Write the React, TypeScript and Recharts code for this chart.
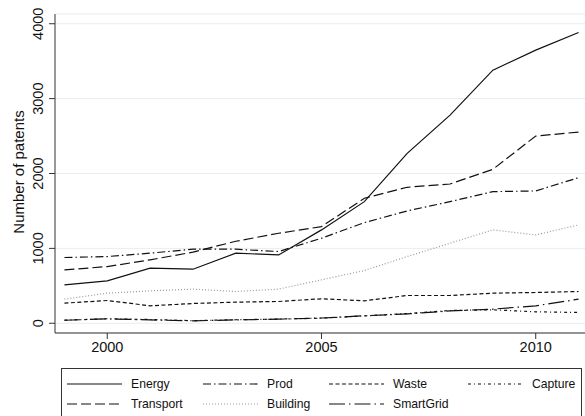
import React from 'react';
import { LineChart, Line, XAxis, YAxis, CartesianGrid } from 'recharts';

// Patentes por año y tecnología
const years = [1999, 2000, 2001, 2002, 2003, 2004, 2005, 2006, 2007, 2008, 2009, 2010, 2011];
const energy = [513, 567, 736, 722, 936, 913, 1247, 1624, 2269, 2780, 3380, 3647, 3883];
const transport = [713, 757, 847, 950, 1095, 1202, 1291, 1669, 1816, 1860, 2056, 2500, 2553];
const prod = [878, 891, 936, 989, 989, 958, 1136, 1344, 1500, 1624, 1758, 1767, 1944];
const building = [322, 402, 433, 456, 424, 456, 580, 704, 891, 1069, 1247, 1180, 1313];
const waste = [269, 304, 233, 264, 282, 291, 327, 300, 371, 371, 402, 411, 424];
const smartGrid = [40, 58, 45, 33, 45, 55, 70, 100, 125, 165, 189, 233, 322];
const capture = [42, 60, 50, 35, 47, 56, 68, 98, 130, 170, 180, 153, 144];

const xTicks = [2000, 2005, 2010];
const yTicks = [0, 1000, 2000, 3000, 4000];

const data = years.map((year, i) => ({
  year,
  energy: energy[i],
  transport: transport[i],
  prod: prod[i],
  building: building[i],
  waste: waste[i],
  smartGrid: smartGrid[i],
  capture: capture[i],
}));

const FONT = '"Liberation Sans", Arial, sans-serif';

// estilo de cada serie (orden de la leyenda, por filas)
const SERIES = [
  { key: 'energy', name: 'Energy', dash: undefined, color: '#111' },
  { key: 'prod', name: 'Prod', dash: '8 3 1.5 3', color: '#111' },
  { key: 'waste', name: 'Waste', dash: '4 2.5', color: '#111' },
  { key: 'capture', name: 'Capture', dash: '3 3 1 3', color: '#111' },
  { key: 'transport', name: 'Transport', dash: '10 4', color: '#111' },
  { key: 'building', name: 'Building', dash: '1 2', color: '#999' },
  { key: 'smartGrid', name: 'SmartGrid', dash: '16 4 1.5 4', color: '#111' },
];

const legendCols = [67, 203, 329, 468];
const legendRows = [384, 404];

const YTick = (props: any) => {
  const { x, y, payload } = props;
  return (
    <text
      x={x}
      y={y}
      transform={`rotate(-90 ${x} ${y})`}
      textAnchor="middle"
      fontSize={14.5}
      fontFamily={FONT}
      fill="#111"
    >
      {payload.value}
    </text>
  );
};

const YTitle = () => (
  <text
    x={24}
    y={172}
    transform="rotate(-90 24 172)"
    textAnchor="middle"
    fontSize={15}
    fontFamily={FONT}
    fill="#111"
  >
    Number of patents
  </text>
);

export default function App() {
  return (
    <div style={{ position: 'absolute', left: 0, top: 0, width: 585, height: 416, background: '#fff' }}>
      <LineChart
        width={585}
        height={416}
        data={data}
        margin={{ top: 14, right: 0, bottom: 53, left: 0 }}
      >
        <CartesianGrid vertical={false} stroke="#e6eef0" strokeWidth={1} />
        <XAxis
          dataKey="year"
          type="number"
          domain={[1998.78, 2011.15]}
          allowDataOverflow
          ticks={xTicks}
          height={30}
          tickSize={6}
          tickMargin={3}
          stroke="#333"
          tick={{ fontSize: 14.5, fontFamily: FONT, fill: '#111' }}
        />
        <YAxis
          type="number"
          domain={[-130, 4130]}
          allowDataOverflow
          ticks={yTicks}
          width={55}
          tickSize={6}
          tickMargin={6}
          stroke="#333"
          tick={<YTick />}
          label={<YTitle />}
        />
        {SERIES.map(s => (
          <Line
            key={s.key}
            dataKey={s.key}
            name={s.name}
            stroke={s.color}
            strokeWidth={1.2}
            strokeDasharray={s.dash}
            dot={false}
            activeDot={false}
            isAnimationActive={false}
          />
        ))}
      </LineChart>

      {/* Leyenda en la parte inferior */}
      <svg
        width={585}
        height={416}
        style={{ position: 'absolute', left: 0, top: 0, pointerEvents: 'none' }}
      >
        <rect x={61.5} y={368.5} width={520} height={60} fill="none" stroke="#333" strokeWidth={1} />
        {SERIES.map((s, i) => {
          const cx = legendCols[i % 4];
          const cy = legendRows[Math.floor(i / 4)];
          return (
            <g key={`legend-${s.key}`}>
              <line
                x1={cx}
                x2={cx + 55}
                y1={cy}
                y2={cy}
                stroke={s.color}
                strokeWidth={1.2}
                strokeDasharray={s.dash}
              />
              <text
                x={cx + 64}
                y={cy}
                dominantBaseline="central"
                fontSize={12.2}
                fontFamily={FONT}
                fill="#111"
              >
                {s.name}
              </text>
            </g>
          );
        })}
      </svg>
    </div>
  );
}
